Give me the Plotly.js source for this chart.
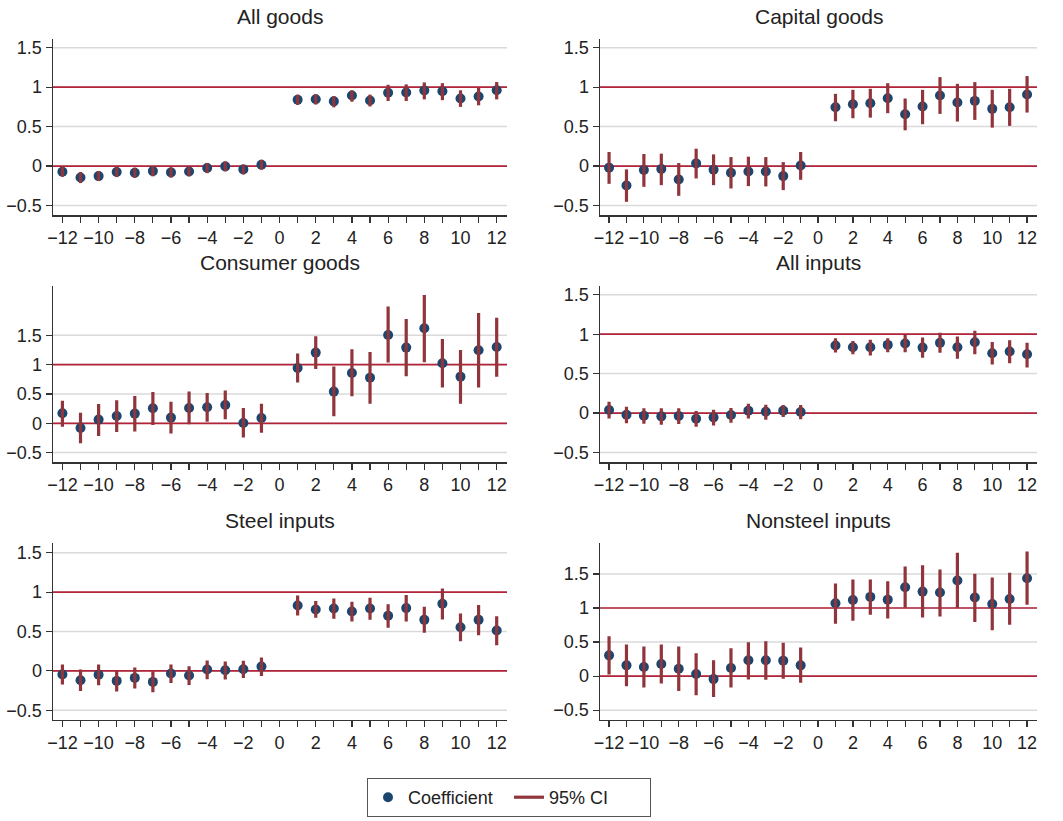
<!DOCTYPE html>
<html>
<head>
<meta charset="utf-8">
<script src="https://cdn.plot.ly/plotly-3.0.1.min.js"></script>
<style>
  html, body { margin: 0; padding: 0; background: #ffffff; }
  #chart { width: 1063px; height: 821px; }
</style>
</head>
<body>
<div id="chart"></div>
<script>
// ---- Data ----
const eventTime = [-12, -11, -10, -9, -8, -7, -6, -5, -4, -3, -2, -1, 1, 2, 3, 4, 5, 6, 7, 8, 9, 10, 11, 12];

const panelTitles = ["All goods", "Capital goods", "Consumer goods", "All inputs", "Steel inputs", "Nonsteel inputs"];

const allGoodsCoef = [-0.072, -0.145, -0.127, -0.076, -0.085, -0.064, -0.08, -0.068, -0.025, -0.004, -0.042, 0.017, 0.84, 0.847, 0.82, 0.895, 0.83, 0.93, 0.932, 0.957, 0.949, 0.857, 0.882, 0.96];
const allGoodsLo = [-0.135, -0.215, -0.19, -0.14, -0.15, -0.13, -0.145, -0.13, -0.09, -0.065, -0.105, -0.045, 0.775, 0.78, 0.745, 0.815, 0.755, 0.825, 0.825, 0.845, 0.835, 0.75, 0.77, 0.845];
const allGoodsHi = [-0.01, -0.075, -0.065, -0.015, -0.02, 0.0, -0.015, -0.005, 0.04, 0.06, 0.02, 0.08, 0.905, 0.91, 0.885, 0.96, 0.905, 1.03, 1.035, 1.06, 1.05, 0.96, 0.99, 1.065];

const capitalCoef = [-0.02, -0.246, -0.05, -0.038, -0.17, 0.034, -0.047, -0.085, -0.068, -0.068, -0.127, 0.008, 0.746, 0.784, 0.797, 0.86, 0.657, 0.754, 0.894, 0.805, 0.826, 0.725, 0.746, 0.907];
const capitalLo = [-0.225, -0.453, -0.263, -0.242, -0.377, -0.157, -0.242, -0.284, -0.254, -0.258, -0.305, -0.174, 0.568, 0.606, 0.614, 0.67, 0.453, 0.53, 0.661, 0.564, 0.585, 0.487, 0.509, 0.678];
const capitalHi = [0.178, -0.042, 0.153, 0.157, 0.038, 0.22, 0.148, 0.114, 0.119, 0.114, 0.05, 0.178, 0.915, 0.966, 0.979, 1.05, 0.856, 0.966, 1.127, 1.042, 1.064, 0.966, 0.979, 1.14];

const consumerCoef = [0.17, -0.08, 0.0625, 0.125, 0.165, 0.256, 0.097, 0.261, 0.273, 0.3125, 0.006, 0.091, 0.943, 1.205, 0.54, 0.858, 0.778, 1.506, 1.29, 1.619, 1.023, 0.795, 1.244, 1.3];
const consumerLo = [-0.057, -0.34, -0.216, -0.148, -0.142, -0.028, -0.176, -0.017, 0.028, 0.068, -0.244, -0.16, 0.693, 0.926, 0.119, 0.46, 0.335, 1.034, 0.801, 1.04, 0.608, 0.335, 0.608, 0.795];
const consumerHi = [0.386, 0.18, 0.33, 0.392, 0.466, 0.534, 0.369, 0.54, 0.517, 0.557, 0.261, 0.335, 1.19, 1.483, 0.966, 1.261, 1.216, 1.989, 1.778, 2.188, 1.438, 1.25, 1.88, 1.8];

const allInputsCoef = [0.038, -0.021, -0.034, -0.042, -0.038, -0.072, -0.055, -0.025, 0.03, 0.017, 0.03, 0.013, 0.856, 0.835, 0.835, 0.864, 0.881, 0.83, 0.89, 0.835, 0.898, 0.758, 0.78, 0.746];
const allInputsLo = [-0.068, -0.13, -0.136, -0.15, -0.14, -0.174, -0.157, -0.123, -0.068, -0.085, -0.051, -0.08, 0.767, 0.746, 0.729, 0.771, 0.771, 0.7, 0.763, 0.69, 0.746, 0.614, 0.631, 0.576];
const allInputsHi = [0.144, 0.08, 0.059, 0.059, 0.059, 0.025, 0.042, 0.064, 0.119, 0.106, 0.102, 0.102, 0.95, 0.915, 0.928, 0.95, 0.992, 0.958, 1.017, 0.97, 1.042, 0.9, 0.924, 0.89];

const steelCoef = [-0.047, -0.119, -0.05, -0.127, -0.089, -0.14, -0.034, -0.059, 0.017, 0.008, 0.021, 0.055, 0.83, 0.78, 0.792, 0.754, 0.792, 0.699, 0.797, 0.648, 0.852, 0.555, 0.648, 0.513];
const steelLo = [-0.174, -0.254, -0.182, -0.263, -0.225, -0.271, -0.153, -0.178, -0.106, -0.11, -0.089, -0.064, 0.703, 0.674, 0.661, 0.627, 0.648, 0.547, 0.627, 0.483, 0.653, 0.377, 0.453, 0.326];
const steelHi = [0.08, 0.017, 0.08, 0.004, 0.042, -0.004, 0.08, 0.059, 0.131, 0.119, 0.127, 0.17, 0.958, 0.886, 0.92, 0.877, 0.928, 0.847, 0.962, 0.814, 1.047, 0.729, 0.835, 0.695];

const nonsteelCoef = [0.305, 0.158, 0.133, 0.177, 0.108, 0.03, -0.044, 0.118, 0.232, 0.232, 0.227, 0.158, 1.069, 1.118, 1.163, 1.123, 1.305, 1.241, 1.227, 1.404, 1.153, 1.059, 1.133, 1.438];
const nonsteelLo = [0.025, -0.148, -0.167, -0.108, -0.217, -0.281, -0.305, -0.167, -0.049, -0.054, -0.039, -0.099, 0.768, 0.813, 0.901, 0.847, 1.005, 0.862, 0.877, 1.0, 0.793, 0.675, 0.754, 1.049];
const nonsteelHi = [0.586, 0.463, 0.433, 0.463, 0.433, 0.335, 0.232, 0.409, 0.498, 0.512, 0.488, 0.419, 1.36, 1.419, 1.419, 1.394, 1.611, 1.626, 1.567, 1.813, 1.502, 1.448, 1.517, 1.828];

const xTickVals = [-12, -11, -10, -9, -8, -7, -6, -5, -4, -3, -2, -1, 0, 1, 2, 3, 4, 5, 6, 7, 8, 9, 10, 11, 12];
const xTickText = ["\u221212", "", "\u221210", "", "\u22128", "", "\u22126", "", "\u22124", "", "\u22122", "", "0", "", "2", "", "4", "", "6", "", "8", "", "10", "", "12"];
const yTickVals = [-0.5, 0, 0.5, 1, 1.5];
const yTickText = ["\u22120.5", "0", "0.5", "1", "1.5"];
const refLines = [0, 1];

// ---- Styling / layout ----
const W = 1063, H = 821;
const FONT = "Liberation Sans, Arial, Helvetica, sans-serif";
const COEF_COLOR = "#1a476f";
const CI_COLOR = "#90353b";
const REF_COLOR = "#b3243a";
const GRID_COLOR = "#dadada";

const panels = [
  {coef: allGoodsCoef, lo: allGoodsLo, hi: allGoodsHi},
  {coef: capitalCoef, lo: capitalLo, hi: capitalHi},
  {coef: consumerCoef, lo: consumerLo, hi: consumerHi},
  {coef: allInputsCoef, lo: allInputsLo, hi: allInputsHi},
  {coef: steelCoef, lo: steelLo, hi: steelHi},
  {coef: nonsteelCoef, lo: nonsteelLo, hi: nonsteelHi}
];

// pixel geometry of plot areas
const colX = [[53, 507], [600, 1037]];
const rowY = [[39, 215], [285.7, 462.3], [543.3, 719.7]];
const xRanges = [[-12.52, 12.57], [-12.52, 12.57]];
const yRanges = [[-0.62, 1.61], [-0.62, 1.61], [-0.665, 2.345], [-0.625, 1.615], [-0.62, 1.62], [-0.64, 1.95]];

const data = [];
const layout = {
  width: W, height: H,
  margin: {l: 0, r: 0, t: 0, b: 0},
  paper_bgcolor: "#ffffff",
  plot_bgcolor: "rgba(0,0,0,0)",
  font: {family: FONT, color: "#222222", size: 18},
  showlegend: true,
  legend: {
    orientation: "h",
    x: 367 / W, xanchor: "left",
    y: 1 - 778 / H, yanchor: "top",
    bordercolor: "#555555", borderwidth: 1,
    font: {family: FONT, size: 18, color: "#222222"},
    entrywidth: 96,
    itemwidth: 30,
    traceorder: "normal"
  },
  shapes: [],
  annotations: []
};

const gridShapes = [];
const refShapes = [];

panels.forEach((p, i) => {
  const col = i % 2, row = Math.floor(i / 2);
  const n = i + 1;
  const xa = n === 1 ? "x" : "x" + n;
  const ya = n === 1 ? "y" : "y" + n;
  const xKey = n === 1 ? "xaxis" : "xaxis" + n;
  const yKey = n === 1 ? "yaxis" : "yaxis" + n;

  // CI segments built from data arrays
  const cx = [], cy = [];
  eventTime.forEach((t, k) => { cx.push(t, t, null); cy.push(p.lo[k], p.hi[k], null); });

  data.push({
    type: "scatter", mode: "markers", x: eventTime, y: p.coef,
    xaxis: xa, yaxis: ya, name: "Coefficient", showlegend: i === 0,
    legendgroup: "coef",
    marker: {color: COEF_COLOR, size: 10, line: {width: 0}},
    hoverinfo: "x+y"
  });
  data.push({
    type: "scatter", mode: "lines", x: cx, y: cy,
    xaxis: xa, yaxis: ya, name: "95% CI", showlegend: i === 0,
    legendgroup: "ci",
    line: {color: CI_COLOR, width: 3.2},
    connectgaps: false,
    hoverinfo: "skip"
  });

  const xd = [colX[col][0] / W, colX[col][1] / W];
  const yd = [1 - rowY[row][1] / H, 1 - rowY[row][0] / H];

  layout[xKey] = {
    domain: xd, anchor: ya, range: xRanges[col],
    tickmode: "array", tickvals: xTickVals, ticktext: xTickText,
    ticks: "outside", ticklen: 6, tickwidth: 1.2, tickcolor: "#333333",
    showline: true, linecolor: "#333333", linewidth: 1.5,
    showgrid: false, zeroline: false,
    tickfont: {family: FONT, size: 18, color: "#222222"},
    fixedrange: true
  };
  layout[yKey] = {
    domain: yd, anchor: xa, range: yRanges[i],
    tickmode: "array", tickvals: yTickVals, ticktext: yTickText,
    ticks: "outside", ticklen: 6, tickwidth: 1.2, tickcolor: "#333333",
    showline: true, linecolor: "#333333", linewidth: 1.5,
    showgrid: false,
    zeroline: false,
    tickfont: {family: FONT, size: 18, color: "#222222"},
    fixedrange: true
  };

  // grid lines (drawn first) and reference lines (drawn on top of them)
  yTickVals.forEach(v => {
    gridShapes.push({
      type: "line", xref: "paper", yref: ya,
      x0: xd[0], x1: xd[1], y0: v, y1: v,
      line: {color: GRID_COLOR, width: 1.5}, layer: "below"
    });
  });
  refLines.forEach(v => {
    refShapes.push({
      type: "line", xref: "paper", yref: ya,
      x0: xd[0], x1: xd[1], y0: v, y1: v,
      line: {color: REF_COLOR, width: 1.7}, layer: "below"
    });
  });

  layout.annotations.push({
    text: panelTitles[i], showarrow: false,
    xref: "paper", yref: "paper",
    x: (xd[0] + xd[1]) / 2, xanchor: "center",
    y: 1 - (rowY[row][0] - 23) / H, yanchor: "middle",
    font: {family: FONT, size: 21, color: "#222222"}
  });
});

layout.shapes = gridShapes.concat(refShapes);

Plotly.newPlot("chart", data, layout, {displayModeBar: false, staticPlot: true});
</script>
</body>
</html>
